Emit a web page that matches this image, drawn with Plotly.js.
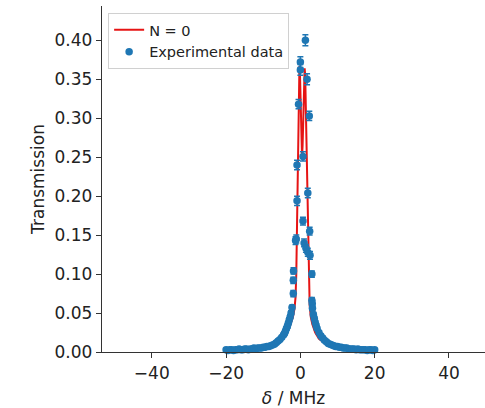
<!DOCTYPE html>
<html>
<head>
<meta charset="utf-8">
<script src="https://cdn.plot.ly/plotly-3.0.1.min.js"></script>
<style>html,body{margin:0;padding:0;background:#fff;}#chart{width:485px;height:408px;}</style>
</head>
<body>
<div id="chart"></div>
<script>
// Fit curve (N = 0)
const fitX = [-20,-15,-10,-7,-5,-4,-3,-2.5,-2,-1.6,-1.3,-1.1,-0.95,-0.8,-0.65,-0.5,-0.35,-0.25,-0.1,0.1,0.3,0.45,0.6,0.8,1.0,1.15,1.3,1.5,1.7,1.9,2.1,2.3,2.5,2.8,3.2,4,5,7,10,15,20];
const fitY = [0.003,0.004,0.006,0.010,0.016,0.022,0.031,0.037,0.045,0.055,0.07,0.10,0.15,0.21,0.27,0.32,0.355,0.367,0.355,0.31,0.27,0.25,0.265,0.31,0.35,0.364,0.355,0.31,0.25,0.19,0.13,0.085,0.06,0.045,0.036,0.025,0.017,0.010,0.006,0.004,0.003];

// Experimental data
const dataX = [-20,-19.5,-19,-18.5,-18,-17.5,-17,-16.5,-16,-15.5,-15,-14.5,-14,-13.5,-13,-12.5,-12,-11.5,-11,-10.5,-10,-9.5,-9,-8.5,-8,-7.5,-7,-6.5,-6,-5.5,-5,-4.5,-4.25,-4,-3.75,-3.5,-3.25,-3,-2.75,-2.5,-2.25,
  -1.9,-1.9,-1.85,-1.3,-1.1,-0.9,-0.9,-0.5,0.0,0.0,0.7,0.7,1.35,1.8,2.0,2.4,2.5,1.0,1.5,2.0,2.6,3.1,3.1,3.2,
  3.25,3.5,3.75,4,4.25,4.5,5,5.5,6,6.5,7,7.5,8,8.5,9,9.5,10,10.5,11,11.5,12,12.5,13,13.5,14,14.5,15,15.5,16,16.5,17,17.5,18,18.5,19,19.5,20];
const dataY = [0.003,0.002,0.003,0.003,0.002,0.003,0.003,0.004,0.003,0.003,0.004,0.004,0.003,0.004,0.004,0.005,0.004,0.005,0.005,0.005,0.006,0.006,0.007,0.007,0.008,0.009,0.010,0.012,0.014,0.016,0.019,0.022,0.024,0.027,0.030,0.033,0.037,0.041,0.045,0.050,0.057,
  0.075,0.092,0.104,0.143,0.145,0.194,0.240,0.318,0.362,0.372,0.251,0.168,0.400,0.350,0.204,0.303,0.155,0.140,0.133,0.128,0.124,0.100,0.066,0.062,
  0.056,0.048,0.043,0.038,0.034,0.030,0.025,0.021,0.018,0.015,0.013,0.011,0.010,0.009,0.008,0.007,0.007,0.006,0.006,0.005,0.005,0.005,0.004,0.004,0.004,0.004,0.003,0.004,0.003,0.003,0.003,0.003,0.002,0.003,0.003,0.002,0.003];
const dataErr = [0.0015,0.0015,0.0015,0.0015,0.0015,0.0015,0.0015,0.0015,0.0015,0.0015,0.0015,0.0015,0.0015,0.0015,0.0015,0.0015,0.0015,0.0015,0.0015,0.0015,0.0015,0.0015,0.0015,0.0015,0.0015,0.0015,0.002,0.002,0.002,0.002,0.002,0.002,0.002,0.002,0.002,0.0025,0.0025,0.003,0.003,0.003,0.003,
  0.004,0.004,0.004,0.005,0.005,0.006,0.006,0.006,0.007,0.007,0.006,0.005,0.007,0.007,0.006,0.006,0.005,0.005,0.005,0.005,0.005,0.004,0.004,0.004,
  0.003,0.003,0.003,0.0025,0.0025,0.002,0.002,0.002,0.002,0.002,0.002,0.0015,0.0015,0.0015,0.0015,0.0015,0.0015,0.0015,0.0015,0.0015,0.0015,0.0015,0.0015,0.0015,0.0015,0.0015,0.0015,0.0015,0.0015,0.0015,0.0015,0.0015,0.0015,0.0015,0.0015,0.0015,0.0015];

const yTicks = [0,0.05,0.10,0.15,0.20,0.25,0.30,0.35,0.40];
const yTickText = ['0.00','0.05','0.10','0.15','0.20','0.25','0.30','0.35','0.40'];
const xTicks = [-40,-20,0,20,40];

const blue = '#1f77b4';
const font = 'DejaVu Sans, sans-serif';

const traces = [
  {x: fitX, y: fitY, type: 'scatter', mode: 'lines', name: 'N = 0',
   line: {color: 'rgb(230,20,20)', width: 2}, cliponaxis: false},
  {x: dataX, y: dataY, type: 'scatter', mode: 'markers', name: 'Experimental data',
   marker: {color: blue, size: 7.5},
   error_y: {type: 'data', array: dataErr, visible: true, color: blue, thickness: 1.5, width: 3},
   cliponaxis: false}
];

const layout = {
  width: 485, height: 408,
  margin: {l: 102, r: 0, t: 6, b: 56},
  paper_bgcolor: '#fff', plot_bgcolor: '#fff',
  font: {family: font, color: '#222', size: 16},
  showlegend: true,
  legend: {x: 0.016, y: 0.98, xanchor: 'left', yanchor: 'top',
    bgcolor: 'rgba(255,255,255,0.8)', bordercolor: '#d0d0d0', borderwidth: 1,
    font: {family: font, size: 14.5, color: '#222'}, tracegroupgap: 0, itemwidth: 30},
  xaxis: {range: [-53.4, 49.7], tickvals: xTicks, showgrid: false, zeroline: false,
    showline: true, linecolor: '#333', linewidth: 1.2, ticks: 'outside', ticklen: 5, tickcolor: '#333',
    tickfont: {family: font, size: 17, color: '#222'},
    title: {text: '<i>δ</i> / MHz', font: {family: font, size: 17, color: '#222'}, standoff: 11}},
  yaxis: {range: [0, 0.444], tickvals: yTicks, ticktext: yTickText, showgrid: false, zeroline: false,
    showline: true, linecolor: '#333', linewidth: 1.2, ticks: 'outside', ticklen: 5, tickcolor: '#333',
    tickfont: {family: font, size: 17, color: '#222'},
    title: {text: 'Transmission', font: {family: font, size: 17, color: '#222'}, standoff: 5}}
};

Plotly.newPlot('chart', traces, layout, {staticPlot: true, displayModeBar: false});
</script>
</body>
</html>
